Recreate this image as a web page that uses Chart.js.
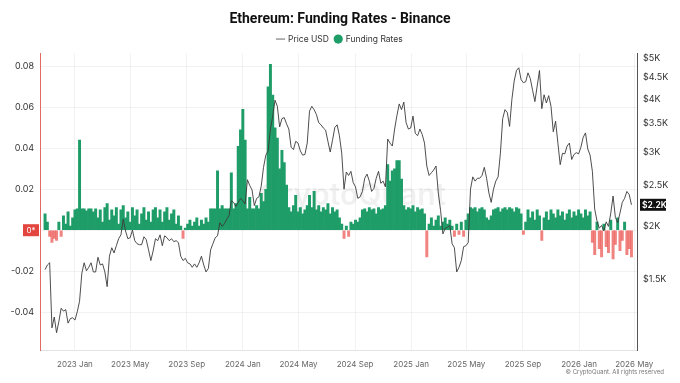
<!DOCTYPE html>
<html lang="en">
<head>
  <meta charset="UTF-8" />
  <title>Ethereum: Funding Rates - Binance</title>
  <script src="https://cdn.jsdelivr.net/npm/chart.js"></script>
  <style>
    html, body { margin: 0; padding: 0; background: #fff; }
    #wrap { width: 680px; height: 383px; position: relative; }
  </style>
</head>
<body>
<div id="wrap"><canvas id="fundingChart"></canvas></div>

<script>
  // days counted from 2023-01-01, one sample every 5 days
  const startDay = -65;
  const stepDays = 5;

  const tickDays = [0, 120, 243, 365, 486, 609, 731, 851, 974, 1096, 1216];
  const tickLabels = ['2023 Jan', '2023 May', '2023 Sep', '2024 Jan', '2024 May', '2024 Sep',
                      '2025 Jan', '2025 May', '2025 Sep', '2026 Jan', '2026 May'];

  const rateTicks = [-0.04, -0.02, 0, 0.02, 0.04, 0.06, 0.08];
  const priceTicks = [1500, 2000, 2500, 3000, 3500, 4000, 4500, 5000];

  const priceUsd = [
    1580, 1620, 1640, 1150, 1220, 1120, 1190, 1280, 1260, 1270,
    1180, 1210, 1215, 1200, 1255, 1330, 1550, 1640, 1570, 1600,
    1640, 1560, 1560, 1690, 1620, 1630, 1560, 1440, 1700, 1780,
    1730, 1800, 1870, 1910, 2080, 1950, 1870, 1880, 1960, 1850,
    1820, 1810, 1810, 1890, 1860, 1760, 1660, 1750, 1870, 1850,
    1910, 1800, 1900, 1880, 1850, 1870, 1840, 1850, 1830, 1700,
    1660, 1680, 1640, 1630, 1600, 1630, 1600, 1640, 1700, 1620,
    1560, 1590, 1760, 1820, 1880, 1900, 2040, 2000, 2030, 2080,
    2120, 2300, 2280, 2230, 2280, 2330, 2300, 2260, 2580, 2500,
    2440, 2240, 2330, 2350, 2490, 2760, 2950, 3020, 3400, 3650,
    3980, 3850, 3440, 3600, 3620, 3500, 3400, 3080, 3040, 3180,
    3150, 3020, 2950, 2960, 3150, 3750, 3850, 3780, 3680, 3520,
    3480, 3420, 3380, 3180, 3000, 3200, 3430, 3480, 3280, 2980,
    2450, 2690, 2640, 2700, 2540, 2480, 2330, 2350, 2420, 2600,
    2660, 2560, 2420, 2460, 2600, 2700, 2530, 2560, 2480, 3220,
    3150, 3100, 3400, 3660, 3900, 3780, 3940, 3520, 3400, 3420,
    3650, 3320, 3280, 3400, 3300, 3150, 2780, 2640, 2680, 2720,
    2780, 2400, 2180, 1920, 1980, 1990, 2010, 1820, 1780, 1560,
    1600, 1660, 1790, 1800, 1830, 2450, 2620, 2560, 2600, 2600,
    2640, 2760, 2600, 2400, 2280, 2450, 2560, 2620, 2980, 3600,
    3780, 3720, 3450, 4000, 4420, 4680, 4750, 4450, 4380, 4400,
    4620, 4480, 4200, 3950, 4300, 4680, 3800, 4100, 3920, 4080,
    3850, 3350, 3550, 3150, 2800, 2980, 2970, 3100, 3150, 2880,
    2960, 2990, 2970, 3080, 3250, 3330, 3050, 2950, 2700, 2200,
    2060, 1980, 2010, 1950, 2050, 2000, 2150, 2360, 2100, 2040,
    2150, 2280, 2330, 2420, 2380, 2250
  ];

  const fundingRates = [
    0.008, 0.004, -0.003, -0.006, -0.004, -0.005, 0.004, -0.003, 0.007, 0.003,
    0.009, 0.002, 0.006, 0.010, 0.0105, 0.044, 0.0105, 0.0105, 0.0095, 0.0105,
    0.0105, 0.009, 0.0105, 0.006, 0.010, 0.004, 0.011, 0.013, 0.005, 0.010,
    0.007, 0.011, 0.003, 0.010, 0.012, 0.006, 0.009, 0.004, 0.011, 0.007,
    0.010, 0.003, 0.008, 0.011, 0.005, 0.009, 0.004, 0.010, 0.011, 0.006,
    0.010, 0.004, 0.009, 0.011, 0.005, 0.008, 0.010, 0.003, 0.007, 0.002,
    -0.004, 0.001, 0.003, 0.005, 0.002, 0.004, 0.006, 0.002, 0.005, 0.003,
    0.006, 0.004, 0.0105, 0.0105, 0.0105, 0.029, 0.0105, 0.012, 0.0105, 0.0105,
    0.0105, 0.028, 0.0105, 0.013, 0.041, 0.049, 0.059, 0.044, 0.0105, 0.016,
    0.0105, 0.0105, 0.012, 0.0105, 0.018, 0.014, 0.020, 0.070, 0.081, 0.066,
    0.050, 0.045, 0.030, 0.039, 0.033, 0.022, 0.011, 0.009, 0.012, 0.017,
    0.009, 0.011, 0.008, 0.010, 0.012, 0.017, 0.011, 0.019, 0.010, 0.012,
    0.009, 0.011, 0.010, 0.013, 0.008, 0.011, 0.009, 0.010, 0.006, 0.003,
    -0.004, 0.002, -0.003, 0.004, 0.003, 0.005, 0.004, 0.006, 0.010, 0.0105,
    0.009, 0.011, 0.010, 0.0105, 0.008, 0.011, 0.010, 0.0105, 0.012, 0.032,
    0.024, 0.029, 0.030, 0.034, 0.034, 0.025, 0.012, 0.010, 0.011, 0.0105,
    0.012, 0.009, 0.011, 0.010, 0.0105, 0.008, -0.013, 0.003, 0.006, 0.002,
    0.005, 0.007, 0.002, 0.004, 0.006, 0.003, 0.005, 0.002, -0.003, 0.003,
    -0.002, 0.004, -0.003, 0.005, 0.008, 0.011, 0.0105, 0.011, 0.009, 0.0105,
    0.011, 0.010, 0.006, 0.005, 0.007, 0.010, 0.0105, 0.011, 0.009, 0.0105,
    0.011, 0.010, 0.011, 0.0105, 0.009, 0.011, 0.0105, 0.008, -0.002, 0.004,
    0.010, 0.006, 0.009, 0.005, 0.010, 0.007, -0.005, 0.006, 0.009, 0.005,
    0.010, 0.008, 0.006, 0.010, 0.007, 0.009, 0.005, 0.008, 0.010, 0.006,
    0.009, 0.007, 0.010, 0.008, 0.006, 0.010, 0.007, 0.009, -0.006, -0.012,
    0.004, -0.009, -0.013, 0.003, -0.008, -0.011, 0.005, -0.014, -0.007, 0.006,
    -0.010, -0.005, 0.004, -0.012, -0.009, -0.013
  ];

  const GREEN = '#1f9d68';
  const RED = 'rgba(235, 90, 85, 0.75)';
  const FONT = 'Inter, "Noto Sans", sans-serif';

  // watermark, "0*" marker, last price tag and footer
  const decorPlugin = {
    id: 'decor',
    beforeDatasetsDraw(chart) {
      const { ctx, chartArea } = chart;
      ctx.save();
      ctx.font = '600 30px ' + FONT;
      ctx.fillStyle = 'rgba(0, 0, 0, 0.06)';
      ctx.textAlign = 'center';
      ctx.textBaseline = 'middle';
      ctx.fillText('CryptoQuant', (chartArea.left + chartArea.right) / 2 + 14, 196);
      ctx.restore();
    },
    afterDraw(chart) {
      const { ctx, chartArea, scales } = chart;
      ctx.save();
      // zero marker on the left axis
      const y0 = scales.y.getPixelForValue(0);
      ctx.fillStyle = '#e2463f';
      ctx.fillRect(chartArea.left - 17, y0 - 6, 16, 12);
      ctx.fillStyle = '#fff';
      ctx.font = '8px ' + FONT;
      ctx.textAlign = 'center';
      ctx.textBaseline = 'middle';
      ctx.fillText('0*', chartArea.left - 9, y0 + 0.5);

      // last price tag on the right axis
      const last = priceUsd[priceUsd.length - 1];
      const yp = scales.y1.getPixelForValue(last);
      const tag = '$' + (Math.floor(last / 100) / 10).toFixed(1) + 'K';
      ctx.fillStyle = '#111';
      ctx.fillRect(chartArea.right + 3, yp - 6, 26, 12);
      ctx.fillStyle = '#fff';
      ctx.font = '600 8.5px ' + FONT;
      ctx.textAlign = 'left';
      ctx.fillText(tag, chartArea.right + 5, yp + 0.5);

      // footer
      ctx.fillStyle = '#777';
      ctx.font = '6px ' + FONT;
      ctx.textAlign = 'right';
      ctx.fillText('\u00a9 CryptoQuant. All rights reserved', 664, 372);
      ctx.restore();
    }
  };

  const ctx = document.getElementById('fundingChart').getContext('2d');
  const chart = new Chart(ctx, {
    data: {
      datasets: [
        {
          type: 'line',
          label: 'Price USD',
          data: priceUsd.map((p, i) => ({ x: startDay + i * stepDays, y: p })),
          yAxisID: 'y1',
          borderColor: '#3a3a3a',
          borderWidth: 0.9,
          pointRadius: 0,
          tension: 0,
          pointStyle: 'line'
        },
        {
          type: 'bar',
          label: 'Funding Rates',
          data: fundingRates.map((v, i) => ({ x: startDay + i * stepDays, y: v })),
          yAxisID: 'y',
          backgroundColor: fundingRates.map(v => v >= 0 ? GREEN : RED),
          barPercentage: 1,
          categoryPercentage: 1,
          grouped: false,
          pointStyle: 'circle'
        }
      ]
    },
    options: {
      responsive: true,
      maintainAspectRatio: false,
      animation: false,
      devicePixelRatio: 1,
      layout: { padding: { top: 0, right: 0, bottom: 5, left: 0 } },
      plugins: {
        title: {
          display: true,
          text: 'Ethereum: Funding Rates - Binance',
          color: '#111',
          font: { family: 'Roboto', size: 14, weight: 'bold' },
          padding: { top: 11, bottom: 1 }
        },
        legend: {
          display: true,
          labels: {
            usePointStyle: true,
            boxWidth: 6.5,
            boxHeight: 6.5,
            padding: 6,
            color: '#333',
            font: { family: FONT, size: 8.5 },
            generateLabels(chart) {
              const items = Chart.defaults.plugins.legend.labels.generateLabels(chart);
              items.forEach(it => {
                if (it.text === 'Funding Rates') {
                  it.fillStyle = GREEN;
                  it.strokeStyle = GREEN;
                } else {
                  it.strokeStyle = '#666';
                  it.lineWidth = 1;
                }
              });
              return items;
            }
          }
        },
        tooltip: { enabled: false }
      },
      scales: {
        x: {
          type: 'linear',
          offset: false,
          min: -76,
          max: 1222,
          grid: { color: 'rgba(0,0,0,0.05)', drawTicks: false, offset: false },
          border: { color: '#e3e3e3' },
          afterBuildTicks(scale) {
            scale.ticks = tickDays.map(v => ({ value: v }));
          },
          ticks: {
            autoSkip: false,
            maxRotation: 0,
            padding: 9,
            color: '#666',
            font: { family: FONT, size: 8 },
            callback: v => tickLabels[tickDays.indexOf(v)]
          }
        },
        y: {
          type: 'linear',
          position: 'left',
          min: -0.0587,
          max: 0.0864,
          grid: { color: 'rgba(0,0,0,0.05)', drawTicks: false },
          border: { color: 'rgba(222, 80, 70, 0.85)', width: 1 },
          afterBuildTicks(scale) {
            scale.ticks = rateTicks.map(v => ({ value: v }));
          },
          afterFit(scale) { scale.width = 40; },
          ticks: {
            padding: 6,
            color: '#333',
            font: { family: FONT, size: 9, lineHeight: 2.5 },
            callback: v => v === 0 ? '' : v.toFixed(2)
          }
        },
        y1: {
          type: 'logarithmic',
          position: 'right',
          min: 1017,
          max: 5140,
          grid: { display: false, drawTicks: false },
          border: { color: '#555', width: 1 },
          afterBuildTicks(scale) {
            scale.ticks = priceTicks.map(v => ({ value: v }));
          },
          afterFit(scale) { scale.width = 43; },
          ticks: {
            padding: 6,
            color: '#333',
            font: { family: FONT, size: 9, lineHeight: 2.5 },
            callback: v => '$' + (v / 1000) + 'K'
          }
        }
      }
    },
    plugins: [decorPlugin]
  });
</script>
</body>
</html>
